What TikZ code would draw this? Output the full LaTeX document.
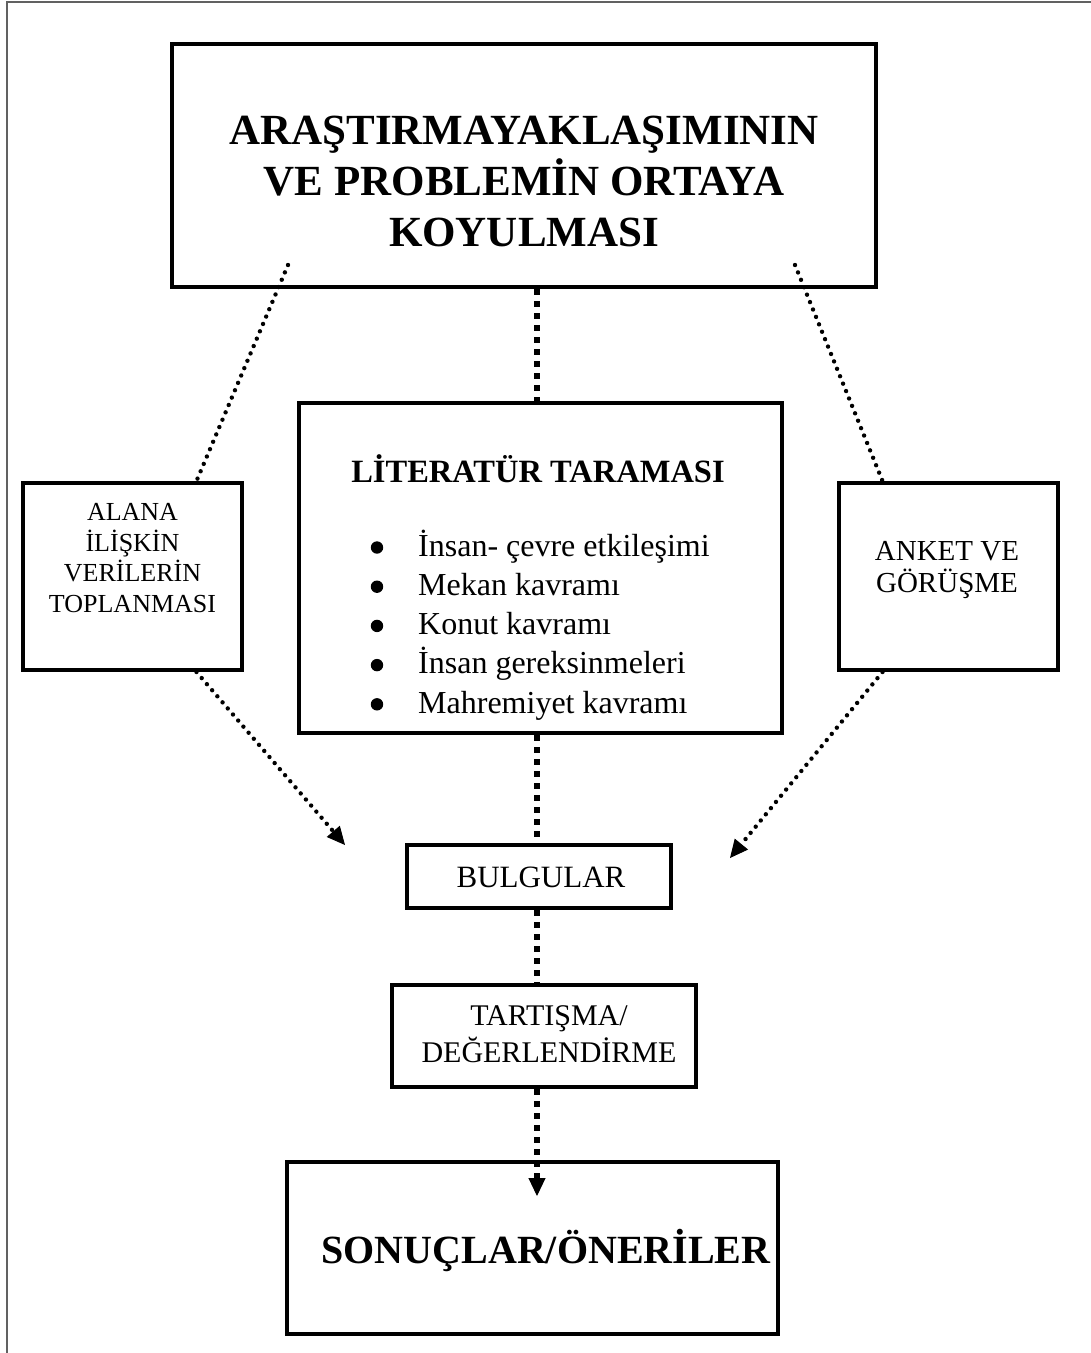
\documentclass[tikz,border=0pt]{standalone}
\usepackage{fontspec}
\setmainfont{Liberation Serif}
\usetikzlibrary{arrows.meta}
\begin{document}
\begin{tikzpicture}[x=1pt,y=-1pt,
  box/.style={draw, line width=4pt, inner sep=0pt},
  txt/.style={inner sep=0pt, align=center},
  bulletdot/.style={fill=black},
  thickdots/.style={line width=6pt, dash pattern=on 6pt off 6pt},
  thindots/.style={line width=4.4pt, line cap=round, dash pattern=on 0pt off 8pt},
  tipped/.style={-{Triangle[length=18pt,width=17pt,line width=1pt]}},
  frameline/.style={draw=black!62, line width=2pt}]
\useasboundingbox (0,0) rectangle (1091,1353);
\fill[white] (0,0) rectangle (1091,1353);
\draw[frameline] (7,1353) -- (7,1.5) -- (1091,1.5);

% boxes
\node[box, minimum width=704pt, minimum height=243pt] (top) at (524,165.5) {};
\node[box, minimum width=219pt, minimum height=187pt] (left) at (132.5,576.5) {};
\node[box, minimum width=483pt, minimum height=330pt] (lit) at (540.5,568) {};
\node[box, minimum width=219pt, minimum height=187pt] (right) at (948.5,576.5) {};
\node[box, minimum width=264pt, minimum height=63pt] (bul) at (539,876.5) {};
\node[box, minimum width=304pt, minimum height=102pt] (tart) at (544,1036) {};
\node[box, minimum width=491pt, minimum height=172pt] (son) at (532.5,1248) {};

% texts (multi-line nodes: base = baseline of last line)
\node[txt, anchor=base, font=\fontsize{43}{51}\selectfont\bfseries] (toptxt) at (524,246)
  {ARAŞTIRMAYAKLAŞIMININ\\VE PROBLEMİN ORTAYA\\KOYULMASI};
\node[txt, anchor=base, font=\fontsize{26}{30.5}\selectfont] (lefttxt) at (132.5,612)
  {ALANA\\İLİŞKİN\\VERİLERİN\\TOPLANMASI};
\node[txt, anchor=base, font=\fontsize{29}{32}\selectfont] (righttxt) at (947,592)
  {ANKET VE\\GÖRÜŞME};
\node[txt, anchor=base, font=\fontsize{32.5}{36}\selectfont\bfseries] (littitle) at (538,482)
  {LİTERATÜR TARAMASI};
\node[txt, anchor=base west, align=left, font=\fontsize{32}{39.2}\selectfont] (items) at (418,713)
  {İnsan- çevre etkileşimi\\
   Mekan kavramı\\
   Konut kavramı\\
   İnsan gereksinmeleri\\
   Mahremiyet kavramı};
\foreach \k in {0,...,4}
  \fill[bulletdot] (377,{547.5+39.2*\k}) circle[radius=6.2pt];
\node[txt, anchor=base, font=\fontsize{31}{36}\selectfont] (bultxt) at (541,887) {BULGULAR};
\node[txt, anchor=base, font=\fontsize{30}{37}\selectfont] (tarttxt) at (549,1062)
  {TARTIŞMA/\\DEĞERLENDİRME};
\node[txt, anchor=base, font=\fontsize{40}{48}\selectfont\bfseries] (sontxt) at (546,1263)
  {SONUÇLAR/ÖNERİLER};

% connectors
\coordinate (tl) at (288,265);
\coordinate (tr) at (795,265);
\coordinate (aL) at (345,845);
\coordinate (aR) at (730,858);
\coordinate (aS) at (537,1196);

\draw[thickdots] ([xshift=13pt]top.south) -- ([xshift=-3.5pt]lit.north);
\draw[thickdots] ([xshift=-3.5pt]lit.south) -- ([xshift=-2pt]bul.north);
\draw[thickdots] ([xshift=-2pt]bul.south) -- ([xshift=-7pt]tart.north);
\draw[thickdots, tipped] ([xshift=-7pt]tart.south) -- (aS);

\draw[thindots] (tl) -- ([xshift=64pt]left.north);
\draw[thindots, tipped] ([xshift=64pt]left.south) -- (aL);
\draw[thindots] (tr) -- ([xshift=-66pt]right.north);
\draw[thindots, tipped] ([xshift=-66pt]right.south) -- (aR);
\end{tikzpicture}
\end{document}
